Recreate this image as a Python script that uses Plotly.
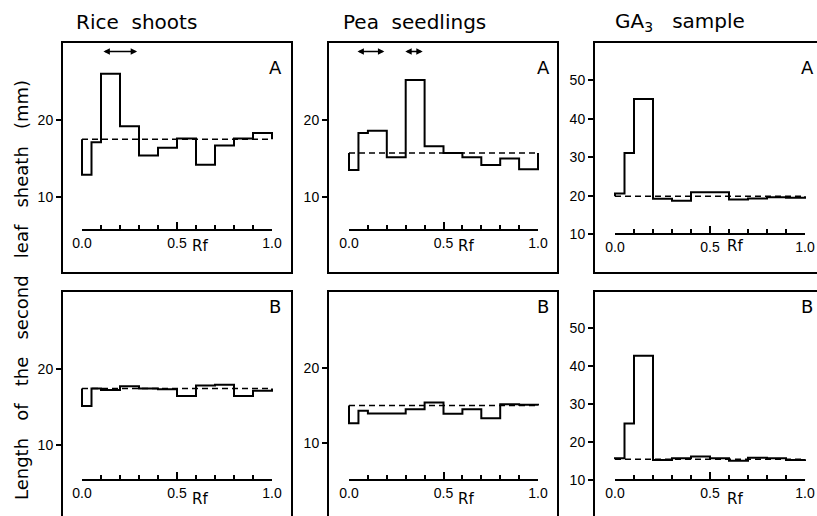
import plotly.graph_objects as go

# ---------------- data ----------------
rf_edges = [0.0, 0.05, 0.1, 0.2, 0.3, 0.4, 0.5, 0.6, 0.7, 0.8, 0.9, 1.0]

rice_A = [12.9, 17.1, 26.0, 19.2, 15.4, 16.4, 17.6, 14.2, 16.7, 17.6, 18.3]
rice_A_control = 17.5
pea_A = [13.5, 18.3, 18.6, 15.15, 25.2, 16.6, 15.7, 15.15, 14.15, 15.0, 13.6]
pea_A_control = 15.7
ga3_A = [20.6, 31.1, 45.1, 19.2, 18.7, 20.9, 20.9, 19.0, 19.3, 19.6, 19.5]
ga3_A_control = 19.9

rice_B = [15.2, 17.5, 17.3, 17.8, 17.5, 17.4, 16.5, 17.9, 18.0, 16.5, 17.2]
rice_B_control = 17.5
pea_B = [12.65, 14.3, 13.95, 13.95, 14.5, 15.4, 13.9, 14.5, 13.3, 15.15, 15.1]
pea_B_control = 15.0
ga3_B = [15.75, 24.9, 42.8, 15.3, 15.75, 16.2, 15.75, 15.05, 15.9, 15.75, 15.3]
ga3_B_control = 15.5

rice_A_active = [(0.105, 0.29)]
pea_A_active = [(0.037, 0.187), (0.29, 0.39)]
active_arrow_level = 28.9

col_titles = ["Rice  shoots", "Pea  seedlings", "GA<sub>3</sub>   sample"]
row_letters = ["A", "B"]
y_ticks_low = [10, 20]
y_ticks_ga = [10, 20, 30, 40, 50]
rf_tick_step = 0.5
rf_minor_step = 0.1
y_title = "Length   of   the   second   leaf   sheath   (mm)"

# ---------------- layout geometry (pixels) ----------------
W, H = 817, 516
col_frame = [(63, 291), (329, 557), (595, 817)]
col_rf = [(82, 272), (349, 538), (615, 805)]
row_frame = [(43, 272), (292, 516)]

panels = [
    dict(r=0, c=0, v=rice_A, ctrl=rice_A_control, yr=[0.26, 30.0], rfpos=230, yt=y_ticks_low, act=rice_A_active),
    dict(r=0, c=1, v=pea_A, ctrl=pea_A_control, yr=[0.26, 30.0], rfpos=230, yt=y_ticks_low, act=pea_A_active),
    dict(r=0, c=2, v=ga3_A, ctrl=ga3_A_control, yr=[0.23, 59.6], rfpos=234, yt=y_ticks_ga, act=[]),
    dict(r=1, c=0, v=rice_B, ctrl=rice_B_control, yr=[0.7, 30.2], rfpos=480, yt=y_ticks_low, act=[]),
    dict(r=1, c=1, v=pea_B, ctrl=pea_B_control, yr=[0.38, 30.0], rfpos=480, yt=y_ticks_low, act=[]),
    dict(r=1, c=2, v=ga3_B, ctrl=ga3_B_control, yr=[0.5, 59.6], rfpos=480, yt=y_ticks_ga, act=[]),
]

NUMFONT = dict(family="Liberation Sans", size=14, color="black")
TXTFONT = dict(family="DejaVu Sans", size=20, color="black")


def px_x(p):
    return p / W


def px_y(p):
    return 1 - p / H


def ax_name(letter, n):
    return f"{letter}axis" if n == 1 else f"{letter}axis{n}"


def ax_ref(letter, n):
    return letter if n == 1 else f"{letter}{n}"


fig = go.Figure()
layout = {}
annotations = []

for i, p in enumerate(panels, start=1):
    r, c = p["r"], p["c"]
    nF, nR, nY = 2 * i - 1, 2 * i, i
    xF, xR, yP = ax_ref("x", nF), ax_ref("x", nR), ax_ref("y", nY)
    f0, f1 = col_frame[c]
    q0, q1 = col_rf[c]
    t0, t1 = row_frame[r]
    scale = (q1 - q0)
    xrange_frame = [(f0 - q0) / scale, (f1 - q0) / scale]

    layout[ax_name("x", nF)] = dict(
        domain=[px_x(f0), px_x(f1)], range=xrange_frame, anchor=yP,
        showline=True, linewidth=2, linecolor="black",
        mirror=(r == 0), side=("bottom" if r == 0 else "top"),
        showticklabels=False, ticks="", showgrid=False, zeroline=False,
        automargin=False,
    )
    layout[ax_name("y", nY)] = dict(
        domain=[px_y(t1), px_y(t0)], range=p["yr"], anchor=xF,
        showline=True, linewidth=2, linecolor="black", mirror=(c < 2),
        ticks="outside", ticklen=5, tickwidth=2, tickcolor="black",
        tickmode="array", tickvals=p["yt"], tickfont=NUMFONT,
        showgrid=False, zeroline=False, automargin=False,
    )
    layout[ax_name("x", nR)] = dict(
        domain=[px_x(q0), px_x(q1)], range=[rf_edges[0], rf_edges[-1]],
        anchor="free", position=px_y(p["rfpos"]),
        showline=True, linewidth=2, linecolor="black",
        ticks="inside", ticklen=7, tickwidth=2, tickcolor="black",
        tickmode="linear", tick0=0, dtick=rf_tick_step, tickformat=".1f",
        tickfont=NUMFONT,
        minor=dict(tickmode="linear", tick0=0, dtick=rf_minor_step, ticks="inside",
                   ticklen=4, tickwidth=2, tickcolor="black", showgrid=False),
        showgrid=False, zeroline=False, automargin=False,
    )

    # step histogram
    xs = [rf_edges[0]] + rf_edges[:-1] + [rf_edges[-1]]
    ys = [p["ctrl"]] + p["v"] + [p["ctrl"]]
    fig.add_trace(go.Scatter(x=xs, y=ys, mode="lines",
                             line=dict(shape="hv", color="black", width=2),
                             xaxis=xF, yaxis=yP, showlegend=False, hoverinfo="skip"))
    # control level
    fig.add_trace(go.Scatter(x=[rf_edges[0], rf_edges[-1]], y=[p["ctrl"], p["ctrl"]],
                             mode="lines",
                             line=dict(color="black", width=1.5, dash="6px,4px"),
                             xaxis=xF, yaxis=yP, showlegend=False, hoverinfo="skip"))
    # placeholder so the Rf axis has a subplot
    fig.add_trace(go.Scatter(x=[None], y=[None], mode="lines", xaxis=xR, yaxis=yP,
                             showlegend=False, hoverinfo="skip"))

    # panel letter
    letter_x = [275, 543, 807][c]
    letter_y = [67, 306][r]
    annotations.append(dict(text=row_letters[r], x=px_x(letter_x), y=px_y(letter_y),
                            xref="paper", yref="paper", showarrow=False,
                            xanchor="center", yanchor="middle",
                            font=dict(family="DejaVu Sans", size=18, color="black")))
    # Rf label
    rf_lab_x = [200, 466, 735][c]
    rf_lab_y = [246, 499][r]
    annotations.append(dict(text="Rf", x=px_x(rf_lab_x), y=px_y(rf_lab_y),
                            xref="paper", yref="paper", showarrow=False,
                            xanchor="center", yanchor="middle",
                            font=dict(family="DejaVu Sans", size=15, color="black")))
    # active zones arrows
    for (a0, a1) in p["act"]:
        annotations.append(dict(text="", x=a1, y=active_arrow_level, ax=a0, ay=active_arrow_level,
                                xref=xF, yref=yP, axref=xF, ayref=yP,
                                showarrow=True, arrowside="end+start",
                                arrowhead=2, startarrowhead=2, arrowsize=0.8, startarrowsize=0.8,
                                arrowwidth=1.6, arrowcolor="black", standoff=0, startstandoff=0))

# column titles
for c, t in enumerate(col_titles):
    cx = [136, 414, 680][c]
    annotations.append(dict(text=t, x=px_x(cx), y=px_y(22), xref="paper", yref="paper",
                            showarrow=False, xanchor="center", yanchor="middle", font=TXTFONT))

# y title
annotations.append(dict(text=y_title, x=px_x(21), y=px_y(290), xref="paper", yref="paper",
                        showarrow=False, textangle=-90, xanchor="center", yanchor="middle",
                        font=dict(family="DejaVu Sans", size=18, color="black")))

fig.update_layout(**layout)
fig.update_layout(
    width=W, height=H, autosize=False,
    margin=dict(l=0, r=0, t=0, b=0),
    paper_bgcolor="white", plot_bgcolor="rgba(0,0,0,0)",
    annotations=annotations, showlegend=False,
)

fig.write_html("out.html", config={"displayModeBar": False},
               post_script="document.body.style.margin='0px';document.body.style.overflow='hidden';")
